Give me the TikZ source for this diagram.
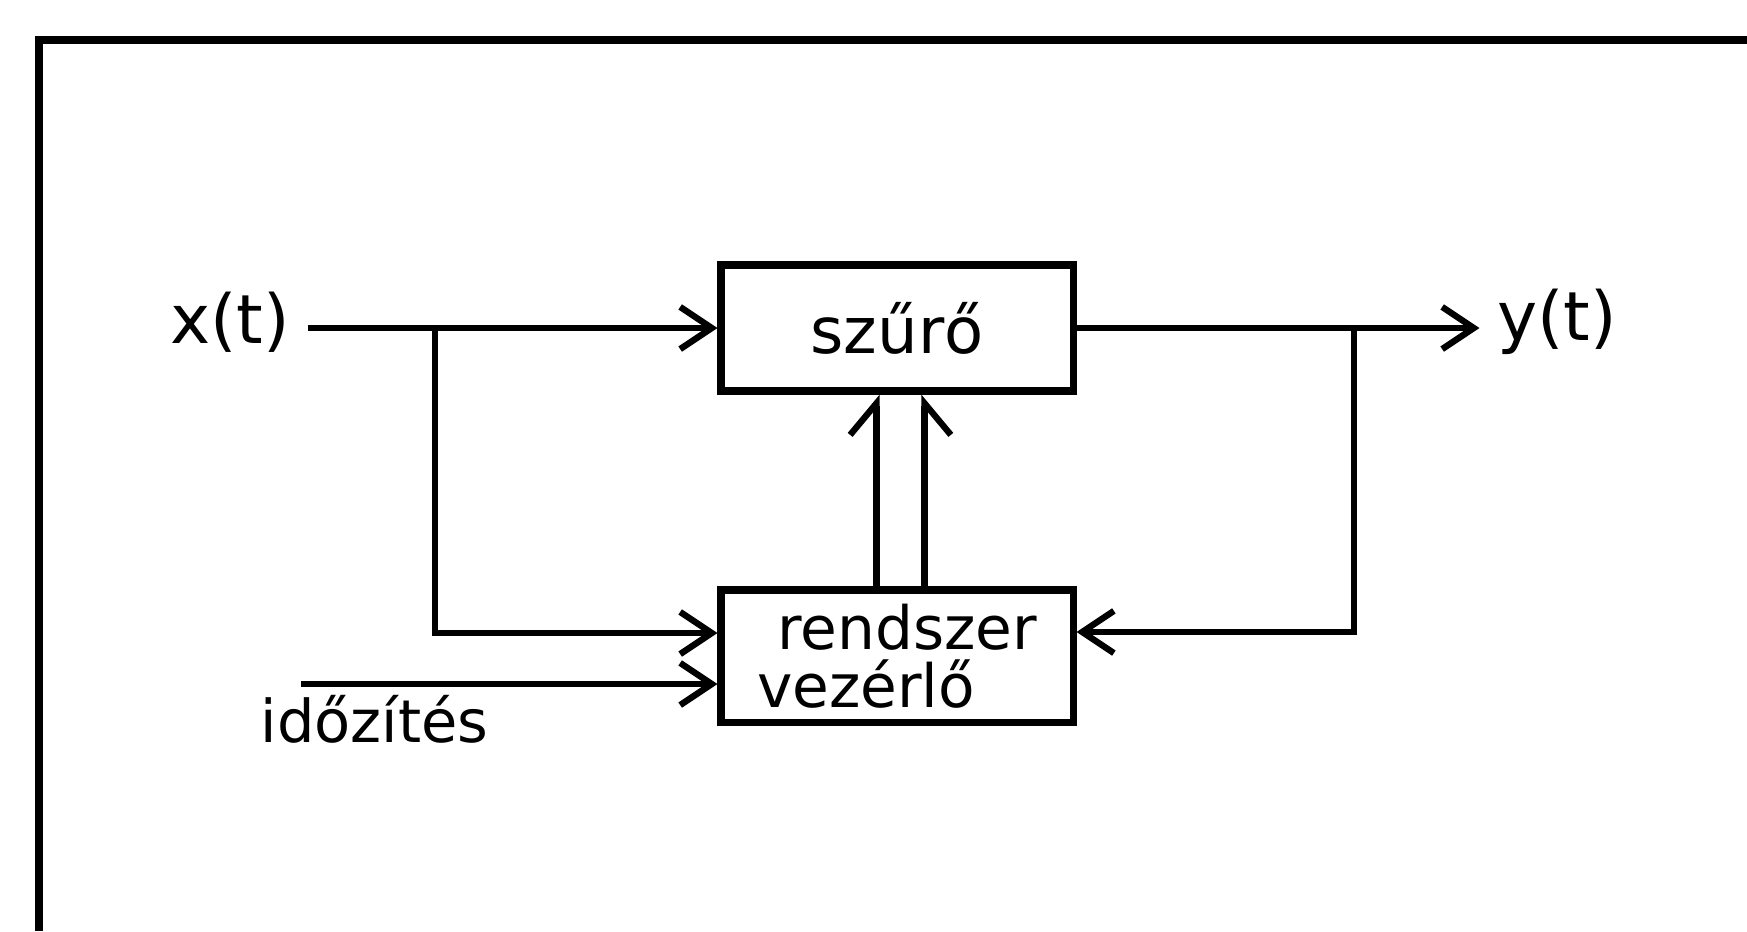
\documentclass[tikz,border=0pt]{standalone}
\usepackage{fontspec}
\setmainfont{DejaVu Sans}
\usetikzlibrary{arrows.meta, math, positioning}

\begin{document}
\begin{tikzpicture}[
  box/.style={draw, line width=2pt, inner sep=0pt, minimum width=3.52cm},
  wire/.style={line width=1.8pt},
  sig/.style={wire, -{Straight Barb[length=9pt, width=12pt]}},
  harpl/.style={wire, -{Straight Barb[harpoon, length=9pt, width=15pt]}},
  harpr/.style={wire, -{Straight Barb[harpoon, swap, length=9pt, width=15pt]}},
  lbl/.style={inner sep=0.17cm, font=\fontsize{19.3}{23}\selectfont},
]
\tikzmath{
\W=17.47;
\H=9.31;
\xc=8.97;
\ys=6.03;
\yr=2.75;
}
\useasboundingbox (0,0) rectangle (\W,\H);

% frame, only left and top edges show
\draw[line width=2.4pt] (0.39,0) -- (0.39,8.91) -- (\W,8.91);

\node[box, minimum height=1.26cm, font=\fontsize{18.2}{22}\selectfont] (szuro) at (\xc,\ys) {szűrő};
\node[box, minimum height=1.32cm, align=left, font=\fontsize{17}{17.6}\selectfont] (rv) at (\xc,\yr) {\hspace*{0.2cm}rendszer\\[-1pt]vezérlő};

\node[lbl] (xt) at (2.30,6.09) {x(t)};
\node[lbl] (yt) at (15.57,6.09) {y(t)};
\node[inner sep=0pt, anchor=base, font=\fontsize{16.8}{20}\selectfont] (ido) at (3.745,1.89) {időzítés};

\coordinate (bl) at (4.35,\ys);
\coordinate (br) at (13.54,\ys);
\coordinate (tin) at (3.01,2.47);

\draw[sig] (xt.east |- szuro.west) -- (szuro.west);
\draw[sig] (bl) |- ([yshift=0.23cm]rv.west);
\draw[sig] (tin) -- (tin -| rv.west);

\draw[sig] (szuro.east) -- (yt.west |- szuro.east);
\draw[sig] (br) |- ([yshift=0.24cm]rv.east);

\draw[harpl] ([xshift=-0.205cm]rv.north) -- ([xshift=-0.205cm]rv.north |- szuro.south);
\draw[harpr] ([xshift=0.275cm]rv.north) -- ([xshift=0.275cm]rv.north |- szuro.south);
\end{tikzpicture}
\end{document}
